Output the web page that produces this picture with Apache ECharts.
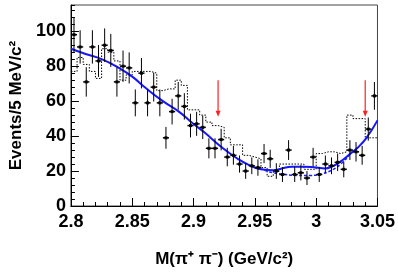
<!DOCTYPE html>
<html><head><meta charset="utf-8">
<script src="https://cdn.jsdelivr.net/npm/echarts@6/dist/echarts.min.js"></script>
<style>html,body{margin:0;padding:0;background:#fff}#c{width:398px;height:273px}</style>
</head><body><div id="c"></div>
<script>
// ---- data ----
const binStart = 2.8;
const binWidth = 0.005;
const counts = [98,91,71,91,83,92,89,71,80,79,59,76,59,68,59,39,54,63,57,46,
                47,45,33,33,38,28,29,24,20,23,22,30,27,20,18,32,18,19,16,28,
                18,24,23,25,21,32,31,29,44,63];
const dottedHist = [77,85,81,77,73,90,88,83,72,75,77,77,77,76,66,67,67,72,69,55,
                    55,52,48,46,45,39,35,35,29,28,27,22,17,20,24,24,24,24,21,21,
                    30,31,31,30,31,52,50,50,39,39];
const fitMass   = [2.800,2.812,2.825,2.839,2.850,2.861,2.875,2.888,2.899,2.909,2.924,2.936,2.945,2.955,2.965,2.972,2.980,2.990,3.000,3.007,3.014,3.020,3.027,3.034,3.041,3.050];
const fitValues = [90,87,84,79,74,67.5,60,54,47.5,42,33,27,23.5,21,20.5,21.5,22.5,22.5,22,21.5,23,25.5,29.5,33.5,39,49];
const bkgMass   = [2.950,2.958,2.965,2.975,2.985,2.995,3.005,3.014,3.020,3.027];
const bkgValues = [22,20.5,19,18,17.5,17.5,18.5,21,24,29];
const arrowMass = [2.92, 3.04];
const arrowTop = 72, arrowBottom = 51;
const xTickLabels = ['2.8','2.85','2.9','2.95','3','3.05'];
const yTickLabels = ['0','20','40','60','80','100'];

// ---- build ----
const dataPts = counts.map((n,i)=>[binStart+(i+0.5)*binWidth, n, Math.sqrt(n)]);
const histPts = [];
dottedHist.forEach((v,i)=>{ histPts.push([binStart+i*binWidth, v]); histPts.push([binStart+(i+1)*binWidth, v]); });
const fitPts = fitMass.map((m,i)=>[m, fitValues[i]]);
const bkgPts = bkgMass.map((m,i)=>[m, bkgValues[i]]);
const arrowPts = arrowMass.map(m=>[m, arrowTop, arrowBottom]);

const labelFont = {fontFamily:'Liberation Sans, Arial, sans-serif', fontWeight:'bold', fontSize:18, color:'#000'};
const titleFont = {fontFamily:'Liberation Sans, Arial, sans-serif', fontWeight:'bold', fontSize:17, color:'#000'};

const chart = echarts.init(document.getElementById('c'), null, {renderer:'canvas'});
chart.setOption({
  animation:false,
  grid:{left:68, right:20, top:5, bottom:66, show:true, borderColor:'#444', borderWidth:1, backgroundColor:'transparent'},
  xAxis:{type:'value', min:2.8, max:3.05, interval:0.05,
    name:'M(\u03c0\u207a \u03c0\u207b) (GeV/c\u00b2)', nameLocation:'middle', nameGap:45,
    nameTextStyle:titleFont,
    axisLine:{lineStyle:{color:'#000', width:1}},
    axisTick:{inside:true, length:8, lineStyle:{color:'#000'}},
    minorTick:{show:true, splitNumber:5, length:4, lineStyle:{color:'#000'}},
    splitLine:{show:false},
    axisLabel:Object.assign({margin:7, formatter:v=>{const s=String(+v.toFixed(2)); return xTickLabels.includes(s)?s:'';}}, labelFont)
  },
  yAxis:[{type:'value', min:0, max:115, interval:20,
    name:'Events/5 MeV/c\u00b2', nameLocation:'middle', nameGap:38, nameRotate:90,
    nameTextStyle:titleFont,
    axisLine:{show:true, lineStyle:{color:'#000', width:1}},
    axisTick:{show:true, inside:true, length:8, lineStyle:{color:'#000'}},
    splitLine:{show:false},
    axisLabel:Object.assign({margin:5, showMaxLabel:false, formatter:v=>{const s=String(v); return yTickLabels.includes(s)?s:'';}}, labelFont)
  },{type:'value', min:0, max:115, interval:4, position:'left',
    axisLine:{show:false}, axisLabel:{show:false}, splitLine:{show:false},
    axisTick:{show:true, inside:true, length:4, lineStyle:{color:'#000'}}
  }],
  series:[
    {type:'line', data:histPts, showSymbol:false, symbol:'none', lineStyle:{color:'#000', width:1, type:[1.5,1.5]}, z:1},
    {type:'line', data:bkgPts, smooth:true, symbol:'none', lineStyle:{color:'#2020ff', width:1.5, type:[3,2]}, z:2},
    {type:'line', data:fitPts, smooth:true, symbol:'none', lineStyle:{color:'#1515ff', width:2}, z:3},
    {type:'custom', data:dataPts, encode:{x:0,y:1}, z:4,
      renderItem:(params, api)=>{
        const m=api.value(0), y=api.value(1), e=api.value(2);
        const t=api.coord([m,y+e]), b=api.coord([m,y-e]);
        const l=api.coord([m-binWidth/2,y]), r=api.coord([m+binWidth/2,y]);
        const c=api.coord([m,y]);
        return {type:'group', children:[
          {type:'line', shape:{x1:t[0],y1:t[1],x2:b[0],y2:b[1]}, style:{stroke:'#000',lineWidth:1}},
          {type:'line', shape:{x1:l[0],y1:l[1],x2:r[0],y2:r[1]}, style:{stroke:'#000',lineWidth:1.5}},
          {type:'rect', shape:{x:c[0]-1.5,y:c[1]-1.5,width:3,height:3}, style:{fill:'#000'}}
        ]};
      }},
    {type:'custom', data:arrowPts, encode:{x:0,y:[1,2]}, z:5,
      renderItem:(params, api)=>{
        const m=api.value(0);
        const t=api.coord([m,api.value(1)]), b=api.coord([m,api.value(2)]);
        return {type:'group', children:[
          {type:'line', shape:{x1:t[0],y1:t[1],x2:b[0],y2:b[1]-3}, style:{stroke:'#ff2020',lineWidth:1.2}},
          {type:'polygon', shape:{points:[[b[0]-2.5,b[1]-6],[b[0]+2.5,b[1]-6],[b[0],b[1]]]}, style:{fill:'#ff2020'}}
        ]};
      }}
  ]
});
</script></body></html>
